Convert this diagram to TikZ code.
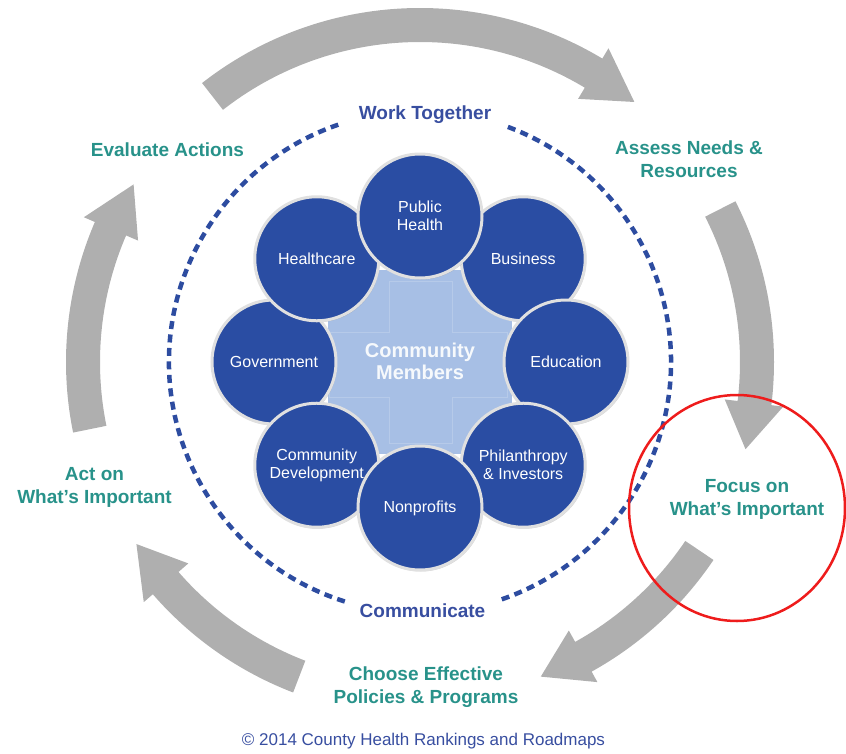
\documentclass[tikz,border=0pt]{standalone}
\usepackage{fontspec}
\setmainfont{Liberation Sans}
\usetikzlibrary{shadows}
\definecolor{ringgray}{RGB}{175, 175, 175}
\definecolor{circblue}{RGB}{42, 77, 163}
\definecolor{squareblue}{RGB}{167, 191, 229}
\definecolor{stepteal}{RGB}{40, 146, 138}
\definecolor{textblue}{RGB}{56, 78, 160}
\definecolor{dashblue}{RGB}{45, 76, 160}
\definecolor{markred}{RGB}{238, 28, 28}

\begin{document}
\begin{tikzpicture}[x=1pt, y=1pt,
	sector/.style={circle, fill=circblue, draw=white!88!black, line width=3pt, minimum size=124pt, inner sep=0pt, align=center, text=white, font=\fontsize{16}{18}\selectfont, drop shadow={shadow xshift=1pt, shadow yshift=-1.5pt, opacity=0.35}},
	steplabel/.style={text=stepteal, font=\bfseries\fontsize{19}{23}\selectfont, align=center},
	bluelabel/.style={text=textblue, font=\bfseries\fontsize{19}{23}\selectfont}]
		\useasboundingbox (-420,-391) rectangle (426,362);
		% grey cycle arrows: tail / head base / tip angles
		\foreach \tail/\base/\tip in {128/59/50.5, 27/-7/-15, -34/-61/-69, -111/-139/-147.3, 191.5/156.7/148.2}
			\fill[ringgray] (\tail:320) arc[start angle=\tail, end angle=\base, radius=320] -- (\base:307) -- (\tip:337) -- (\base:366) -- (\base:354) arc[start angle=\base, end angle=\tail, radius=354] -- cycle;
		\draw[dashblue, line width=4.5pt, dash pattern=on 8pt off 5.5pt] (69.5:251) arc[start angle=69.5, end angle=-71, radius=251];
		\draw[dashblue, line width=4.5pt, dash pattern=on 8pt off 5.5pt] (109:251) arc[start angle=109, end angle=253, radius=251];
		\fill[squareblue] (-92,-92) rectangle (92,92);
		\draw[white, opacity=0.18, line width=1pt] (-30,81) -- (32,81) -- (32,30) -- (87,30) -- (87,-35) -- (32,-35) -- (32,-81) -- (-30,-81) -- (-30,-35) -- (-90,-35) -- (-90,30) -- (-30,30) -- cycle;
		\node[text=white!90!squareblue, font=\bfseries\fontsize{20}{22}\selectfont, align=center] (members) at (0,1) {Community\\Members};
		% bottom ones first, Public Health last
		\node[sector] (business) at (45:146) {Business};
		\node[sector] (education) at (0:146) {Education};
		\node[sector] (philanthropy) at (-45:146) {Philanthropy\\\& Investors};
		\node[sector] (government) at (180:146) {Government};
		\node[sector] (commdev) at (-135:146) {Community\\Development};
		\node[sector] (nonprofits) at (-90:146) {Nonprofits};
		\node[sector] (healthcare) at (135:146) {Healthcare};
		\node[sector] (pubhealth) at (90:146) {Public\\Health};
		\node[bluelabel] (together) at (5,247) {Work Together};
		\node[bluelabel] (communicate) at (2.5,-249) {Communicate};
		\node[steplabel] (evaluate) at (-252.5,212) {Evaluate Actions};
		\node[steplabel] (assess) at (269,202.5) {Assess Needs \&\\Resources};
		\node[steplabel] (focus) at (327,-137.5) {Focus on\\What's Important};
		\node[steplabel] (choose) at (6,-325) {Choose Effective\\Policies \& Programs};
		\node[steplabel] (acton) at (-325.5,-125) {Act on\\What's Important};
		\node[text=textblue, font=\fontsize{17}{20}\selectfont] (credit) at (3.5,-379) {© 2014 County Health Rankings and Roadmaps};
		%\draw[markred] (focus) circle (110);
		\draw[markred, line width=2.5pt] (317,-146) ellipse[x radius=108, y radius=113];
	\end{tikzpicture}
\end{document}
